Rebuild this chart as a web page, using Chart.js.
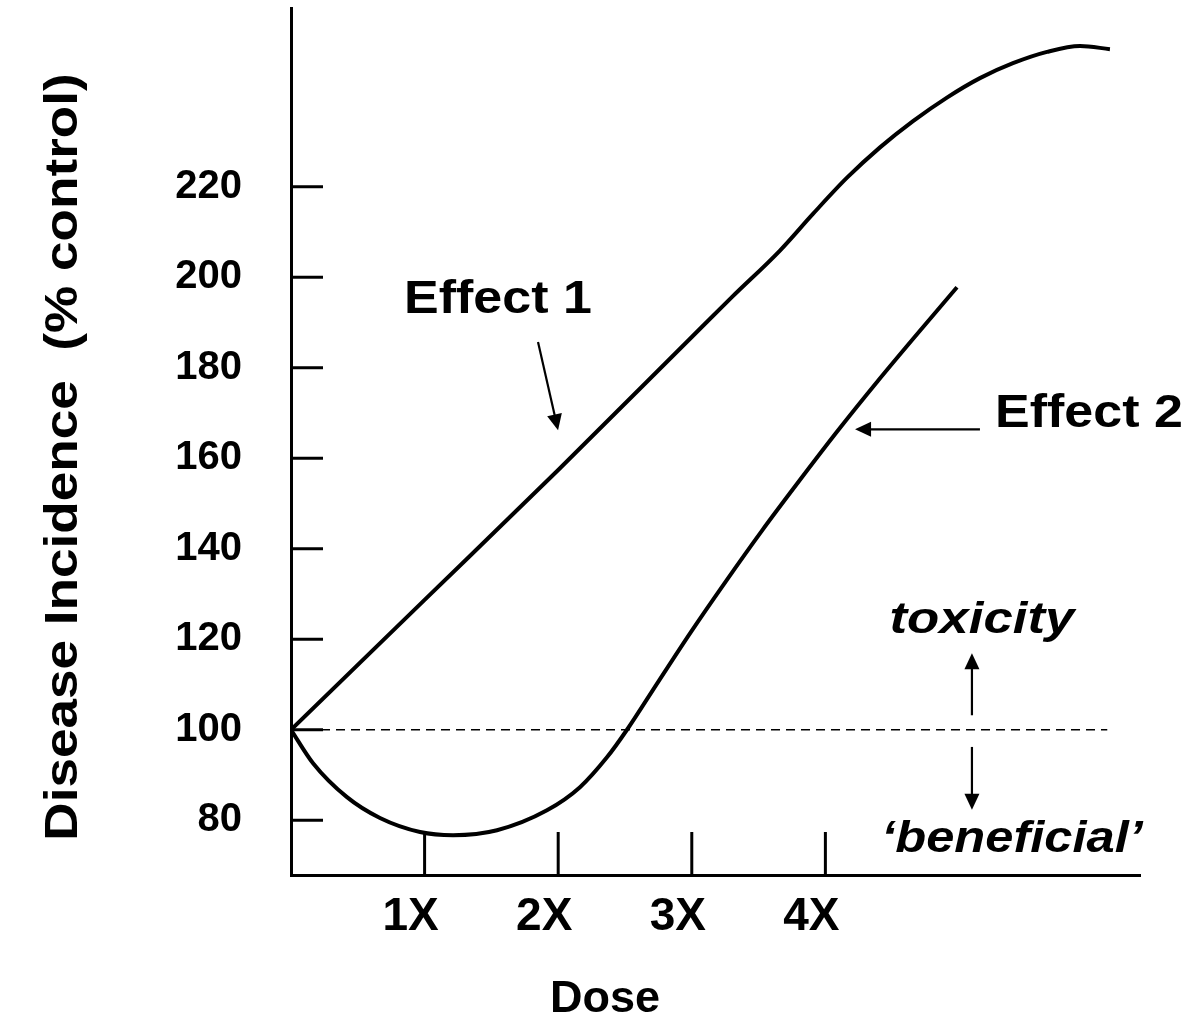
<!DOCTYPE html>
<html><head><meta charset="utf-8">
<script src="https://cdn.jsdelivr.net/npm/chart.js@4.4.1/dist/chart.umd.min.js"></script>
<style>html,body{margin:0;padding:0;background:#fff;} #wrap{width:1190px;height:1018px;position:relative;}</style>
</head><body><div id="wrap"><canvas id="c" width="1190" height="1018"></canvas></div>
<script>
// ---- data ----
const doseTicks = [1, 2, 3, 4];
const valueTicks = [80, 100, 120, 140, 160, 180, 200, 220];
const effect1Dose  = [0, 1, 2, 3, 3.3, 3.66, 3.907, 4.162, 4.409, 4.656, 4.91, 5.157, 5.404, 5.659, 5.906, 6.13];
const effect1Value = [100, 128.7, 157.4, 186.8, 195.6, 205.9, 214.0, 222.0, 228.7, 234.5, 239.7, 244.0, 247.3, 249.8, 251.1, 250.4];
const effect2Dose  = [0, 0.165, 0.419, 0.666, 0.966, 1.213, 1.542, 1.916, 2.163, 2.365, 2.515,
                      2.751, 2.998, 3.255, 3.523, 3.802, 4.091, 4.391, 4.703, 4.985];
const effect2Value = [100, 92.6, 85.1, 80.5, 77.4, 76.7, 77.8, 82.2, 87.3, 93.9, 100,
                      110.7, 121.8, 132.8, 143.9, 154.9, 166.0, 177.0, 188.0, 197.8];
const controlDose  = [0, 6.11];
const controlValue = [100, 100];

// ---- annotations (data coordinates) ----
const labels = [
  {text: 'Effect 1', x: 1.549, y: 192.1, size: 46, italic: false, sx: 1.13},
  {text: 'Effect 2', x: 5.973, y: 166.9, size: 46, italic: false, sx: 1.13},
  {text: 'toxicity', x: 5.172, y: 121.4, size: 44, italic: true, sx: 1.2},
  {text: '\u2018beneficial\u2019', x: 5.397, y: 72.9, size: 44, italic: true, sx: 1.15}
];
const arrows = [
  {x1: 1.849, y1: 185.7, x2: 1.999, y2: 166.2},
  {x1: 5.157, y1: 166.4, x2: 4.222, y2: 166.4},
  {x1: 5.097, y1: 103.2, x2: 5.097, y2: 116.9},
  {x1: 5.097, y1: 96.2, x2: 5.097, y2: 82.3}
];

const FONT = "'Liberation Sans', Arial, Helvetica, sans-serif";
const pts = (xs, ys) => xs.map((x, i) => ({x: x, y: ys[i]}));

const decor = {
  id: 'decor',
  afterDraw(chart) {
    const ctx = chart.ctx, xs = chart.scales.x, ys = chart.scales.y, a = chart.chartArea;
    ctx.save();
    ctx.strokeStyle = '#000'; ctx.fillStyle = '#000';
    // inward tick marks
    ctx.lineWidth = 3; ctx.lineCap = 'butt';
    ys.ticks.forEach(t => {
      const py = ys.getPixelForValue(t.value);
      ctx.beginPath(); ctx.moveTo(a.left, py); ctx.lineTo(a.left + 32, py); ctx.stroke();
    });
    xs.ticks.forEach(t => {
      const px = xs.getPixelForValue(t.value);
      ctx.beginPath(); ctx.moveTo(px, a.bottom); ctx.lineTo(px, a.bottom - 43); ctx.stroke();
    });
    // arrows
    arrows.forEach(r => {
      const x1 = xs.getPixelForValue(r.x1), y1 = ys.getPixelForValue(r.y1);
      const x2 = xs.getPixelForValue(r.x2), y2 = ys.getPixelForValue(r.y2);
      const ang = Math.atan2(y2 - y1, x2 - x1), L = 16, W = 7.5;
      ctx.lineWidth = 2.2;
      ctx.beginPath(); ctx.moveTo(x1, y1);
      ctx.lineTo(x2 - Math.cos(ang) * (L - 2), y2 - Math.sin(ang) * (L - 2)); ctx.stroke();
      ctx.beginPath();
      ctx.moveTo(x2, y2);
      ctx.lineTo(x2 - Math.cos(ang) * L - Math.sin(ang) * W, y2 - Math.sin(ang) * L + Math.cos(ang) * W);
      ctx.lineTo(x2 - Math.cos(ang) * L + Math.sin(ang) * W, y2 - Math.sin(ang) * L - Math.cos(ang) * W);
      ctx.closePath(); ctx.fill();
    });
    // annotation labels
    ctx.textAlign = 'center'; ctx.textBaseline = 'alphabetic';
    labels.forEach(l => {
      ctx.save();
      ctx.translate(xs.getPixelForValue(l.x), ys.getPixelForValue(l.y));
      ctx.scale(l.sx, 1);
      ctx.font = (l.italic ? 'italic ' : '') + 'bold ' + l.size + 'px ' + FONT;
      ctx.fillText(l.text, 0, 0);
      ctx.restore();
    });
    // axis titles
    ctx.save();
    ctx.translate(77, 457);
    ctx.rotate(-Math.PI / 2);
    ctx.scale(1.13, 1);
    ctx.font = 'bold 47px ' + FONT;
    ctx.fillText('Disease Incidence  (% control)', 0, 0);
    ctx.restore();
    ctx.font = 'bold 45px ' + FONT;
    ctx.fillText('Dose', 605, 1012);
    ctx.restore();
  }
};

const noPad = s => { s.paddingTop = 0; s.paddingBottom = 0; s.paddingLeft = 0; s.paddingRight = 0; };

new Chart(document.getElementById('c'), {
  type: 'line',
  data: {
    datasets: [
      {label: 'Effect 1', data: pts(effect1Dose, effect1Value), borderColor: '#000', borderWidth: 4,
       pointRadius: 0, fill: false, cubicInterpolationMode: 'monotone'},
      {label: 'Effect 2', data: pts(effect2Dose, effect2Value), borderColor: '#000', borderWidth: 4,
       pointRadius: 0, fill: false, cubicInterpolationMode: 'monotone'},
      {label: 'Control', data: pts(controlDose, controlValue), borderColor: '#000', borderWidth: 1.5,
       borderDash: [9, 6], pointRadius: 0, fill: false, tension: 0}
    ]
  },
  options: {
    responsive: false, animation: false, devicePixelRatio: 1,
    layout: {padding: {top: 8, right: 50, left: 0, bottom: 0}},
    plugins: {legend: {display: false}, tooltip: {enabled: false}, title: {display: false}},
    scales: {
      x: {
        type: 'linear', min: 0, max: 6.355,
        afterBuildTicks: s => { s.ticks = doseTicks.map(v => ({value: v})); },
        afterFit: s => { s.height = 143; noPad(s); },
        grid: {display: false, drawTicks: false},
        border: {display: true, color: '#000', width: 3},
        ticks: {autoSkip: false, maxRotation: 0, padding: 15, labelOffset: -14, color: '#000',
                font: {family: FONT, weight: 'bold', size: 46},
                callback: v => v + 'X'}
      },
      y: {
        type: 'linear', min: 67.9, max: 259.5,
        afterBuildTicks: s => { s.ticks = valueTicks.map(v => ({value: v})); },
        afterFit: s => { s.width = 291; noPad(s); },
        grid: {display: false, drawTicks: false},
        border: {display: true, color: '#000', width: 3},
        ticks: {autoSkip: false, padding: 49, color: '#000',
                font: {family: FONT, weight: 'bold', size: 40}}
      }
    }
  },
  plugins: [decor]
});
</script>
</body></html>
